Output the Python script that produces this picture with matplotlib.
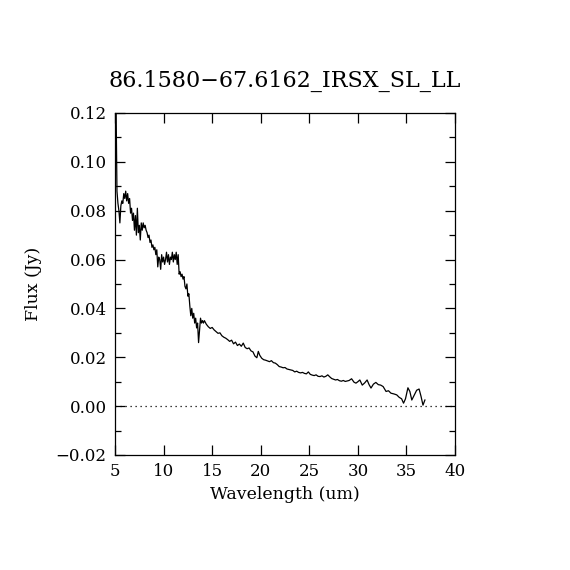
import numpy as np
import matplotlib
matplotlib.use("Agg")
import matplotlib.pyplot as plt
from matplotlib.ticker import MultipleLocator

# spectrum: SL part (short) then LL part (long)
wave_sl = [5.1, 5.2, 5.3, 5.4, 5.5, 5.6, 5.7, 5.8, 5.9, 6.0,
           6.1, 6.2, 6.3, 6.4, 6.5, 6.6, 6.7, 6.8, 6.9, 7.0,
           7.1, 7.2, 7.3, 7.4, 7.5, 7.6, 7.7, 7.8, 7.9, 8.0,
           8.1, 8.2, 8.3, 8.4, 8.5, 8.6, 8.7, 8.8, 8.9, 9.0,
           9.1, 9.2, 9.3, 9.4, 9.5, 9.6, 9.7, 9.8, 9.9, 10.0,
           10.1, 10.2, 10.3, 10.4, 10.5, 10.6, 10.7, 10.8, 10.9, 11.0,
           11.1, 11.2, 11.3, 11.4, 11.5, 11.6, 11.7, 11.8, 11.9, 12.0,
           12.1, 12.2, 12.3, 12.4, 12.5, 12.6, 12.7, 12.8, 12.9, 13.0,
           13.1, 13.2, 13.3, 13.4, 13.5, 13.6, 13.7, 13.8, 13.9, 14.0,
           14.1, 14.2]
flux_sl = [0.125, 0.088, 0.083, 0.080, 0.075, 0.082, 0.084, 0.083, 0.087, 0.085,
           0.088, 0.084, 0.087, 0.083, 0.085, 0.079, 0.081, 0.076, 0.079, 0.072,
           0.078, 0.070, 0.081, 0.071, 0.074, 0.068, 0.075, 0.072, 0.075, 0.073,
           0.074, 0.072, 0.071, 0.069, 0.070, 0.067, 0.068, 0.065, 0.066, 0.064,
           0.065, 0.062, 0.064, 0.057, 0.061, 0.060, 0.056, 0.062, 0.059, 0.061,
           0.058, 0.060, 0.063, 0.059, 0.062, 0.058, 0.061, 0.060, 0.063, 0.059,
           0.062, 0.060, 0.063, 0.058, 0.062, 0.054, 0.055, 0.053, 0.054, 0.052,
           0.053, 0.049, 0.048, 0.050, 0.045, 0.046, 0.041, 0.037, 0.040, 0.036,
           0.038, 0.034, 0.036, 0.032, 0.034, 0.026, 0.031, 0.036, 0.034, 0.035,
           0.034, 0.035]

wave_ll = [14.4, 14.6, 14.8, 15.0, 15.2, 15.4, 15.6, 15.8, 16.0, 16.2,
           16.4, 16.6, 16.8, 17.0, 17.2, 17.4, 17.6, 17.8, 18.0, 18.2,
           18.4, 18.6, 18.8, 19.0, 19.2, 19.4, 19.6, 19.75, 19.9, 20.1,
           20.3, 20.5, 20.7, 20.9, 21.1, 21.3, 21.5, 21.7, 21.9, 22.1,
           22.3, 22.5, 22.7, 22.9, 23.1, 23.3, 23.5, 23.7, 23.9, 24.1,
           24.3, 24.5, 24.7, 24.9, 25.1, 25.3, 25.5, 25.7, 25.9, 26.1,
           26.3, 26.5, 26.7, 26.9, 27.1, 27.3, 27.5, 27.7, 27.9, 28.1,
           28.3, 28.5, 28.7, 28.9, 29.1, 29.35, 29.6, 29.8, 30.0, 30.2,
           30.45, 30.7, 30.95, 31.15, 31.35, 31.6, 31.85, 32.1, 32.35, 32.6,
           32.9, 33.15, 33.4, 33.7, 34.0, 34.25, 34.5, 34.7, 34.9, 35.15,
           35.35, 35.55, 35.8, 36.05, 36.3, 36.5, 36.7, 36.9]
flux_ll = [0.0335, 0.0325, 0.0318, 0.0322, 0.0312, 0.0305, 0.0298, 0.0300, 0.0288, 0.0282,
           0.0278, 0.0272, 0.0265, 0.0270, 0.0255, 0.0262, 0.0248, 0.0254, 0.0245, 0.0258,
           0.0240, 0.0235, 0.0238, 0.0226, 0.0222, 0.0205, 0.0198, 0.0224, 0.0208, 0.0196,
           0.0190, 0.0188, 0.0185, 0.0182, 0.0186, 0.0178, 0.0176, 0.0170, 0.0162, 0.0160,
           0.0157, 0.0158, 0.0152, 0.0150, 0.0148, 0.0146, 0.0140, 0.0143, 0.0138, 0.0136,
           0.0138, 0.0134, 0.0132, 0.0140, 0.0130, 0.0127, 0.0125, 0.0128, 0.0122, 0.0121,
           0.0124, 0.0119, 0.0122, 0.0128, 0.0120, 0.0113, 0.0110, 0.0107, 0.0109, 0.0104,
           0.0102, 0.0105, 0.0101, 0.0103, 0.0105, 0.0112, 0.0098, 0.0094, 0.0100, 0.0107,
           0.0086, 0.0095, 0.0107, 0.0088, 0.0074, 0.0090, 0.0097, 0.0088, 0.0086, 0.0080,
           0.0060, 0.0063, 0.0053, 0.0050, 0.0046, 0.0036, 0.0030, 0.0012, 0.0030, 0.0075,
           0.0060, 0.0025, 0.0045, 0.0065, 0.0070, 0.0040, 0.0004, 0.0025]

title = "86.1580\u221267.6162_IRSX_SL_LL"
xlim = (5, 40)
ylim = (-0.02, 0.12)

plt.rcParams['font.family'] = ['DejaVu Serif']
plt.rcParams['axes.unicode_minus'] = True

fig = plt.figure(figsize=(5.7, 5.7), dpi=100)
ax = fig.add_axes([0.2018, 0.2018, 0.5965, 0.6])

wave = np.array(wave_sl + wave_ll)
flux = np.array(flux_sl + flux_ll)
ax.plot(wave, flux, color="k", linewidth=0.9)
ax.axhline(0.0, color="k", linewidth=0.9, linestyle=(0, (1, 3)))

ax.set_xlim(*xlim)
ax.set_ylim(*ylim)
ax.xaxis.set_major_locator(MultipleLocator(5))
ax.yaxis.set_major_locator(MultipleLocator(0.02))
ax.yaxis.set_minor_locator(MultipleLocator(0.01))
ax.yaxis.set_major_formatter(lambda v, p: ("%.2f" % v).replace("-", "\u2212"))
ax.tick_params(which="both", direction="in", top=True, right=True,
               labelsize=12, width=0.9, pad=6)
ax.tick_params(which="major", length=7)
ax.tick_params(which="minor", length=4)
for s in ax.spines.values():
    s.set_linewidth(0.9)

ax.set_xlabel("Wavelength (um)", fontsize=12.5, labelpad=4)
ax.set_ylabel("Flux (Jy)", fontsize=12.5, labelpad=10)
ax.set_title(title, fontsize=16, pad=19)

fig.savefig("out.png", dpi=100)
